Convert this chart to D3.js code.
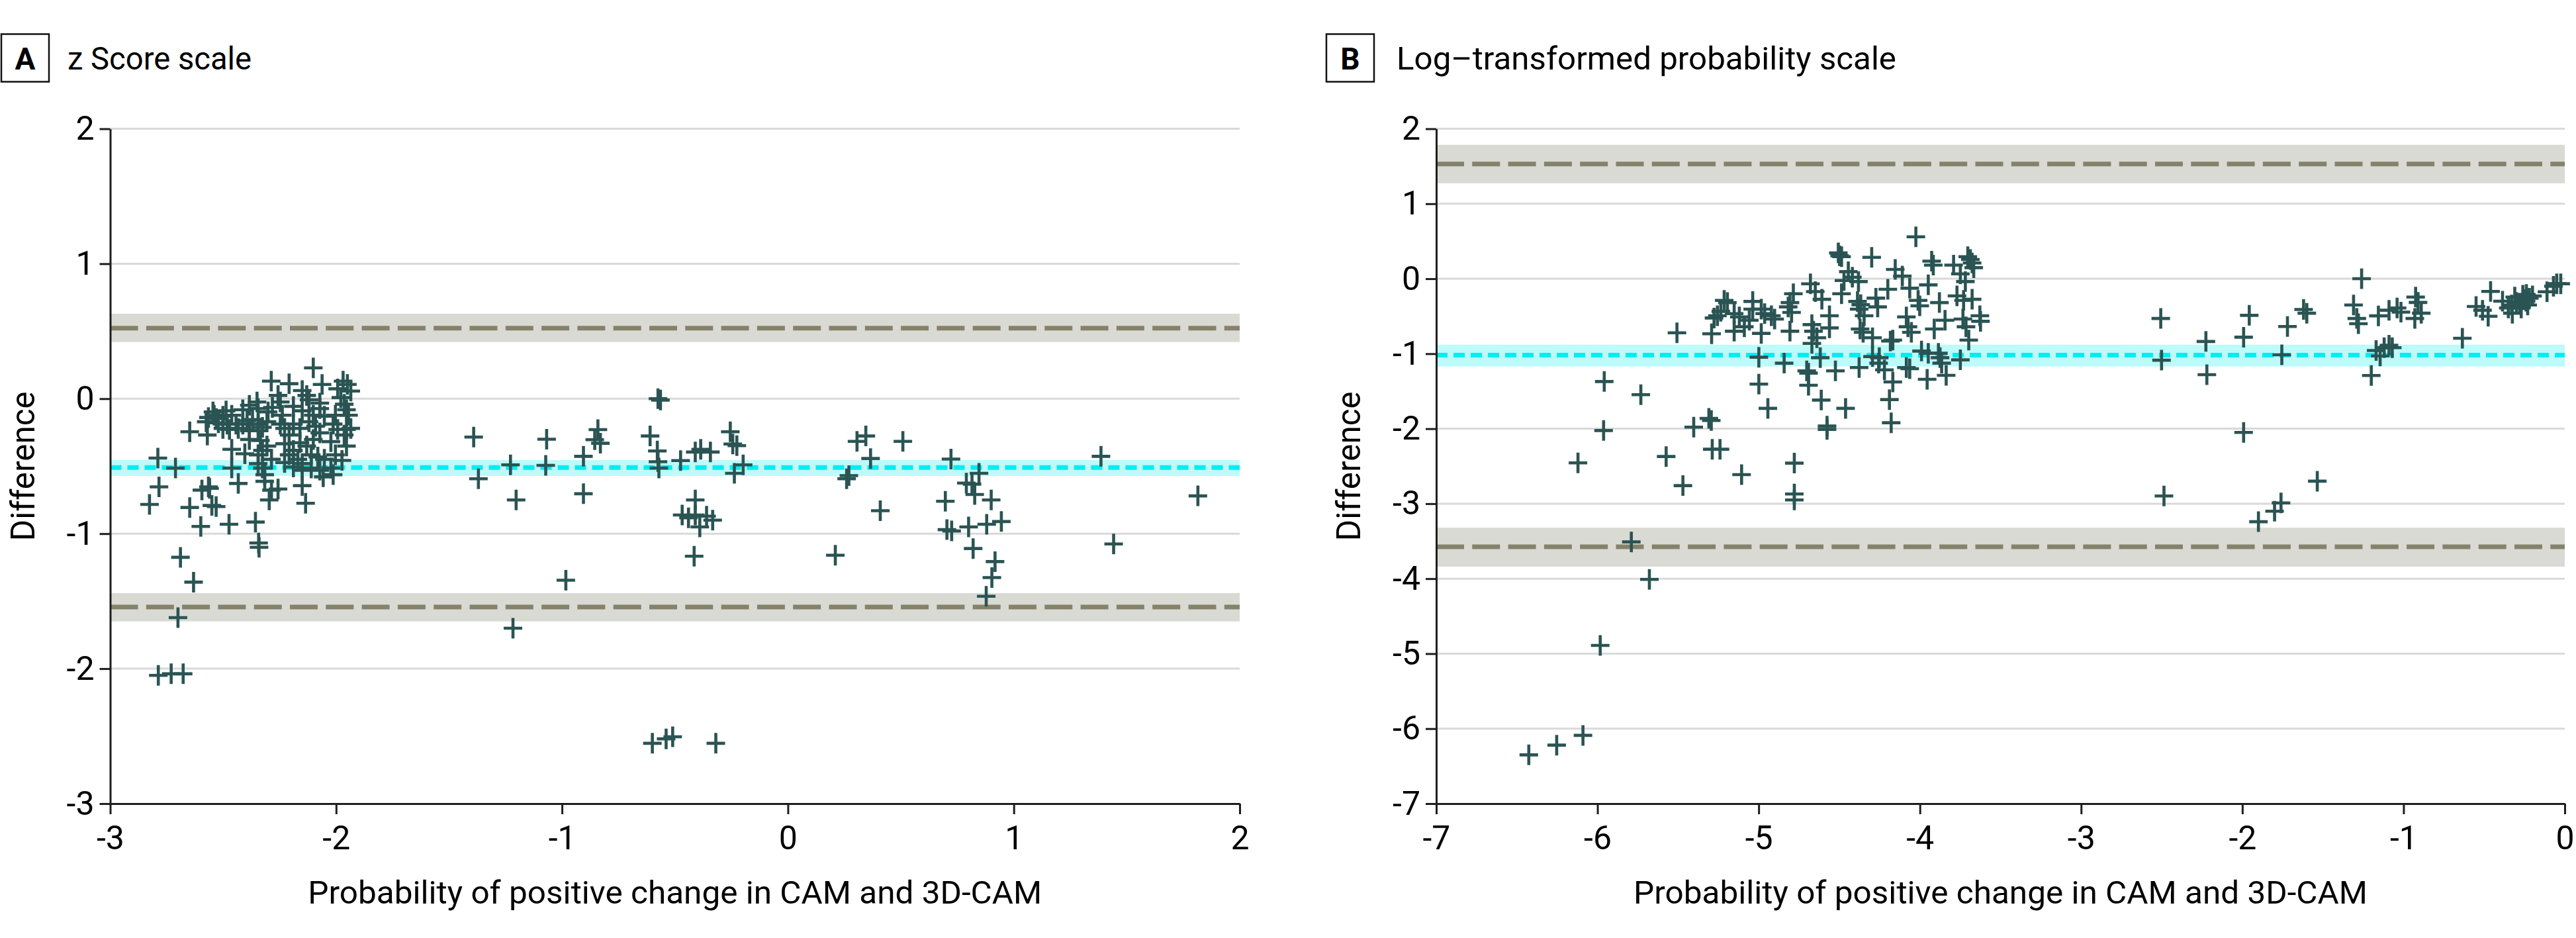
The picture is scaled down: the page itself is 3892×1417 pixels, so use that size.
<!DOCTYPE html>
<html><head><meta charset="utf-8">
<script src="https://cdn.jsdelivr.net/npm/d3@7"></script>
<style>
html,body{margin:0;padding:0;background:#fff;}
svg{display:block;}
text{font-family:Roboto,"Noto Sans",sans-serif;fill:#000;}
</style>
</head><body>
<svg id="chart" width="3892" height="1417"></svg>
<script>
// ---------- DATA ----------
const panelLabels = ["A", "B"];
const panelTitles = ["z Score scale", "Log\u2013transformed probability scale"];
const xAxisTitle = "Probability of positive change in CAM and 3D-CAM";
const yAxisTitle = "Difference";

const zTicksX = [-3, -2, -1, 0, 1, 2];
const zTicksY = [-3, -2, -1, 0, 1, 2];
const logTicksX = [-7, -6, -5, -4, -3, -2, -1, 0];
const logTicksY = [-7, -6, -5, -4, -3, -2, -1, 0, 1, 2];

// Panel A: mean difference and limits of agreement (with CI bands)
const zMean = -0.51, zMeanCI = [-0.572, -0.455];
const zUpper = 0.523, zUpperCI = [0.42, 0.63];
const zLower = -1.543, zLowerCI = [-1.65, -1.44];
// Panel B
const logMean = -1.02, logMeanCI = [-1.17, -0.88];
const logUpper = 1.53, logUpperCI = [1.273, 1.786];
const logLower = -3.574, logLowerCI = [-3.84, -3.32];

// Panel A points
const zScoreX = [
-2.101,-2.287,-2.208,-2.150,-2.062,-1.969,-1.950,-1.935,-1.993,-2.257,
-2.247,-2.130,-2.120,-2.072,-1.979,-1.964,-1.954,-1.945,-2.350,-2.384,
-2.345,-2.413,-2.301,-2.282,-2.238,-2.189,-2.150,-2.101,-2.072,-2.052,
-2.003,-2.545,-2.540,-2.531,-2.501,-2.487,-2.462,-2.565,-2.575,-2.521,
-2.482,-2.443,-2.501,-2.472,-2.433,-2.413,-2.394,-2.370,-2.345,-2.326,
-2.306,-2.345,-2.384,-2.648,-2.570,-2.247,-2.228,-2.208,-2.189,-2.160,
-2.120,-2.091,-2.072,-2.013,-1.993,-1.954,-1.935,-1.964,-1.954,-2.023,
-2.101,-2.130,-2.160,-2.189,-2.228,-2.306,-2.335,-2.384,-2.462,-2.404,
-2.345,-2.326,-2.286,-2.345,-2.326,-2.208,-2.169,-2.150,-2.110,-2.081,
-2.052,-2.003,-1.974,-2.023,-2.072,-2.110,-2.150,-2.189,-2.228,-2.462,
-2.789,-2.711,-2.784,-2.826,-2.433,-2.316,-2.316,-2.286,-2.257,-2.296,
-2.150,-2.135,-2.565,-2.560,-2.594,-2.550,-2.531,-2.648,-2.599,-2.474,
-2.357,-2.343,-2.341,-2.689,-2.631,-2.057,-2.013,-2.700,-2.787,-2.730,
-2.677,
-1.391,-1.370,-1.228,-1.203,-1.217,-1.068,-1.072,-0.983,-0.905,-0.905,
-0.841,-0.855,-0.830,-0.610,-0.575,-0.564,-0.578,-0.575,-0.571,-0.600,
-0.539,-0.510,-0.319,-0.475,-0.410,-0.386,-0.343,-0.410,-0.410,-0.468,
-0.440,-0.390,-0.360,-0.333,-0.415,-0.255,-0.244,-0.226,-0.237,-0.198,
0.210,0.260,0.270,0.306,0.345,0.366,0.409,0.509,0.722,0.697,
0.704,0.725,0.790,0.815,0.846,0.827,0.800,0.820,0.900,0.880,
0.945,0.917,0.903,0.878,1.386,1.442,1.815
];
const zScoreY = [
0.228,0.130,0.111,0.060,0.106,0.130,0.106,0.057,0.073,0.024,
-0.024,0.024,-0.008,-0.033,0.008,-0.041,-0.082,-0.122,-0.024,-0.049,
-0.073,-0.082,-0.098,-0.065,-0.122,-0.057,-0.090,-0.122,-0.073,-0.130,
-0.122,-0.098,-0.122,-0.147,-0.130,-0.090,-0.122,-0.139,-0.171,-0.179,
-0.188,-0.188,-0.220,-0.228,-0.220,-0.188,-0.163,-0.155,-0.188,-0.212,
-0.171,-0.237,-0.237,-0.245,-0.269,-0.188,-0.220,-0.269,-0.188,-0.220,
-0.171,-0.204,-0.253,-0.188,-0.228,-0.228,-0.220,-0.269,-0.351,-0.318,
-0.302,-0.351,-0.326,-0.383,-0.334,-0.351,-0.310,-0.302,-0.375,-0.408,
-0.416,-0.383,-0.449,-0.481,-0.514,-0.416,-0.449,-0.481,-0.416,-0.432,
-0.449,-0.416,-0.457,-0.514,-0.530,-0.514,-0.530,-0.506,-0.473,-0.514,
-0.440,-0.514,-0.653,-0.783,-0.628,-0.563,-0.612,-0.677,-0.669,-0.750,
-0.644,-0.775,-0.653,-0.664,-0.677,-0.791,-0.799,-0.806,-0.946,-0.930,
-0.914,-1.069,-1.101,-1.175,-1.359,-0.579,-0.563,-1.622,-2.050,-2.038,
-2.038,
-0.284,-0.593,-0.490,-0.750,-1.700,-0.300,-0.494,-1.345,-0.427,-0.704,
-0.229,-0.304,-0.330,-0.276,0.000,-0.010,-0.387,-0.467,-0.514,-2.553,
-2.520,-2.505,-2.553,-0.458,-0.395,-0.375,-0.395,-0.750,-0.862,-0.862,
-0.882,-0.950,-0.870,-0.900,-1.167,-0.245,-0.336,-0.348,-0.553,-0.490,
-1.160,-0.593,-0.570,-0.316,-0.276,-0.443,-0.830,-0.316,-0.447,-0.760,
-0.970,-0.980,-0.625,-0.633,-0.553,-0.710,-0.950,-1.110,-0.750,-0.930,
-0.910,-1.207,-1.325,-1.464,-0.427,-1.076,-0.720
];

// Panel B points
const logX = [
-6.426,-6.253,-6.090,-5.983,-5.790,-5.678,
-4.025,-4.506,-4.498,-4.486,-4.299,-3.927,-3.917,-3.791,-3.703,-3.687,
-3.666,-3.676,-4.153,-4.109,-4.063,-3.948,-3.749,-3.718,-4.444,-4.419,
-4.381,-4.471,-4.486,-4.199,-4.273,-4.367,-4.377,-4.262,-4.387,-4.346,
-4.371,-4.352,-4.294,-4.183,-4.011,-4.001,-4.084,-4.074,-4.053,-3.879,
-3.844,-3.911,-3.770,-3.729,-3.676,-3.733,-3.628,-3.624,-3.714,-3.697,
-3.990,-3.948,-3.885,-3.875,-3.865,-3.749,-3.837,-3.955,-4.084,-4.063,
-4.252,-4.220,-4.168,-4.189,-4.178,-4.294,-4.377,-4.461,-4.524,-4.612,
-4.576,-4.576,-4.691,-4.691,-4.702,-4.779,-4.779,-4.779,-4.842,-4.943,
-4.999,-4.999,-4.618,-4.670,-4.639,-4.670,-4.660,-4.561,-4.561,-4.679,
-4.649,-4.608,-4.785,-4.806,-4.817,-4.796,-4.806,-4.984,-4.901,-4.921,
-4.963,-4.984,-5.037,-5.037,-5.058,-5.089,-5.152,-5.120,-5.152,-5.214,
-5.194,-5.256,-5.235,-5.277,-5.292,-5.507,-5.958,-5.731,-5.962,-6.121,
-5.574,-5.403,-5.309,-5.294,-5.288,-5.240,-5.106,-5.470,-4.256,-4.168,
-2.506,-2.501,-2.486,-2.226,-2.220,-1.992,-1.957,-1.992,-1.900,-1.800,
-1.760,-1.755,-1.720,-1.535,-1.620,-1.600,-1.260,-1.310,-1.290,-1.280,
-1.200,-1.170,-1.145,-1.120,-1.090,-1.070,-1.156,-1.090,-1.040,-1.016,
-0.925,-0.910,-0.890,-0.930,-0.635,-0.550,-0.510,-0.460,-0.475,-0.386,
-0.350,-0.325,-0.310,-0.300,-0.270,-0.254,-0.238,-0.230,-0.220,-0.200,
-0.110,-0.050,-0.070,-0.025,-0.280,-0.260,-0.240,-0.330
];
const logY = [
-6.350,-6.220,-6.090,-4.890,-3.510,-4.009,
0.559,0.344,0.306,0.294,0.285,0.235,0.182,0.182,0.294,0.256,
0.147,0.210,0.124,0.035,-0.126,-0.082,0.065,-0.038,0.094,0.020,
-0.038,-0.024,-0.200,-0.141,-0.259,-0.347,-0.406,-0.376,-0.303,-0.494,
-0.670,-0.715,-0.788,-0.832,-0.288,-0.362,-0.509,-0.641,-0.715,-0.318,
-0.553,-0.671,-0.229,-0.288,-0.274,-0.538,-0.494,-0.568,-0.641,-0.818,
-0.965,-0.994,-0.994,-1.053,-1.126,-1.082,-1.288,-1.341,-1.185,-1.200,
-1.053,-1.215,-1.376,-1.612,-1.921,-1.038,-1.185,-1.729,-1.229,-1.618,
-1.965,-2.009,-1.259,-1.421,-1.229,-2.459,-2.871,-2.950,-1.126,-1.729,
-1.047,-1.406,-1.053,-0.862,-0.788,-0.612,-0.700,-0.494,-0.656,-0.068,
-0.171,-0.274,-0.200,-0.318,-0.376,-0.450,-0.700,-0.729,-0.538,-0.494,
-0.465,-0.406,-0.303,-0.406,-0.553,-0.641,-0.700,-0.509,-0.465,-0.288,
-0.318,-0.494,-0.435,-0.524,-0.735,-0.721,-1.371,-1.547,-2.024,-2.456,
-2.371,-1.979,-1.862,-1.891,-2.274,-2.274,-2.612,-2.759,-1.126,-0.818,
-0.530,-1.086,-2.897,-0.837,-1.280,-0.780,-0.488,-2.050,-3.240,-3.100,
-2.990,-1.015,-0.637,-2.700,-0.410,-0.460,0.000,-0.350,-0.530,-0.600,
-1.290,-0.957,-1.030,-0.920,-0.887,-0.920,-0.495,-0.420,-0.390,-0.445,
-0.245,-0.316,-0.460,-0.530,-0.794,-0.370,-0.420,-0.170,-0.500,-0.300,
-0.390,-0.460,-0.245,-0.316,-0.390,-0.280,-0.210,-0.350,-0.260,-0.230,
-0.174,-0.067,-0.100,-0.067,-0.330,-0.220,-0.300,-0.350
];

// ---------- DRAWING ----------
const svg = d3.select("#chart");
svg.append("rect").attr("width", 3892).attr("height", 1417).attr("fill", "#fff");

const C = {
  grid: "#d9d9d9", band: "#dadad4", loa: "#84826a",
  meanBand: "#bdfafa", mean: "#00eef2", point: "#2a5453", axis: "#1e1e1e"
};
const fmt = d => (d < 0 ? "-" + Math.abs(d) : String(d));

function panel(o) {
  const g = svg.append("g");
  const x = d3.scaleLinear().domain(o.xDomain).range([o.left, o.right]);
  const y = d3.scaleLinear().domain(o.yDomain).range([o.bottom, o.top]);

  // gridlines
  g.append("g").selectAll("line").data(o.yTicks.filter(t => t !== o.yDomain[0]))
    .join("line")
    .attr("x1", o.left).attr("x2", o.right)
    .attr("y1", d => y(d)).attr("y2", d => y(d))
    .attr("stroke", C.grid).attr("stroke-width", 3);

  // bands
  const bands = [[o.upperCI, C.band], [o.lowerCI, C.band], [o.meanCI, C.meanBand]];
  g.append("g").selectAll("rect").data(bands).join("rect")
    .attr("x", o.left).attr("width", o.right - o.left)
    .attr("y", d => y(d[0][1])).attr("height", d => y(d[0][0]) - y(d[0][1]))
    .attr("fill", d => d[1]);

  // limit of agreement lines
  g.append("g").selectAll("line").data([o.upper, o.lower]).join("line")
    .attr("x1", o.left).attr("x2", o.right)
    .attr("y1", d => y(d)).attr("y2", d => y(d))
    .attr("stroke", C.loa).attr("stroke-width", 7)
    .attr("stroke-dasharray", "42 12.3");
  g.append("line")
    .attr("x1", o.left).attr("x2", o.right)
    .attr("y1", y(o.mean)).attr("y2", y(o.mean))
    .attr("stroke", C.mean).attr("stroke-width", 7)
    .attr("stroke-dasharray", "17 9");

  // points (plus markers)
  g.append("g").selectAll("path").data(d3.range(o.xs.length)).join("path")
    .attr("transform", i => `translate(${x(o.xs[i])},${y(o.ys[i])})`)
    .attr("d", "M-14,0H14M0,-15.5V15.5")
    .attr("stroke", C.point).attr("stroke-width", 4.6).attr("fill", "none");

  // axes
  const ax = g.append("g").attr("transform", `translate(0,${o.bottom})`)
    .call(d3.axisBottom(x).tickValues(o.xTicks).tickFormat(fmt)
      .tickSize(16).tickSizeOuter(0).tickPadding(17));
  const ay = g.append("g").attr("transform", `translate(${o.left},0)`)
    .call(d3.axisLeft(y).tickValues(o.yTicks).tickFormat(fmt)
      .tickSize(16).tickSizeOuter(0).tickPadding(8));
  [ax, ay].forEach(a => {
    a.attr("font-size", 50).attr("font-family", "Roboto, 'Noto Sans', sans-serif");
    a.select(".domain").attr("stroke", C.axis).attr("stroke-width", 3);
    a.selectAll(".tick line").attr("stroke", C.axis).attr("stroke-width", 3);
    a.selectAll(".tick text").attr("fill", "#000");
  });

  // axis titles
  g.append("text")
    .attr("x", (o.left + o.right) / 2).attr("y", 1365)
    .attr("text-anchor", "middle").attr("font-size", 48)
    .attr("textLength", 1109).attr("lengthAdjust", "spacingAndGlyphs")
    .text(xAxisTitle);
  g.append("text")
    .attr("transform", `translate(${o.left - 115},${(o.top + o.bottom) / 2}) rotate(-90)`)
    .attr("text-anchor", "middle").attr("font-size", 50)
    .attr("textLength", 226).attr("lengthAdjust", "spacingAndGlyphs")
    .text(yAxisTitle);

  // panel title
  g.append("rect").attr("x", o.boxX).attr("y", 51.5).attr("width", 72).attr("height", 72)
    .attr("fill", "none").attr("stroke", "#111").attr("stroke-width", 2.5);
  g.append("text").attr("x", o.boxX + 36).attr("y", 105)
    .attr("text-anchor", "middle").attr("font-size", 46).attr("font-weight", "bold")
    .text(o.label);
  g.append("text").attr("x", o.titleX).attr("y", 105)
    .attr("font-size", 48)
    .attr("textLength", o.titleLen).attr("lengthAdjust", "spacingAndGlyphs")
    .text(o.title);
}

panel({
  label: panelLabels[0], title: panelTitles[0], boxX: 2, titleX: 102, titleLen: 278,
  left: 166.5, right: 1873, top: 194.5, bottom: 1214,
  xDomain: [-3, 2], yDomain: [-3, 2], xTicks: zTicksX, yTicks: zTicksY,
  xs: zScoreX, ys: zScoreY,
  mean: zMean, meanCI: zMeanCI, upper: zUpper, upperCI: zUpperCI, lower: zLower, lowerCI: zLowerCI
});
panel({
  label: panelLabels[1], title: panelTitles[1], boxX: 2004, titleX: 2110, titleLen: 755,
  left: 2170, right: 3875, top: 194.5, bottom: 1214,
  xDomain: [-7, 0], yDomain: [-7, 2], xTicks: logTicksX, yTicks: logTicksY,
  xs: logX, ys: logY,
  mean: logMean, meanCI: logMeanCI, upper: logUpper, upperCI: logUpperCI, lower: logLower, lowerCI: logLowerCI
});
</script>
</body></html>
